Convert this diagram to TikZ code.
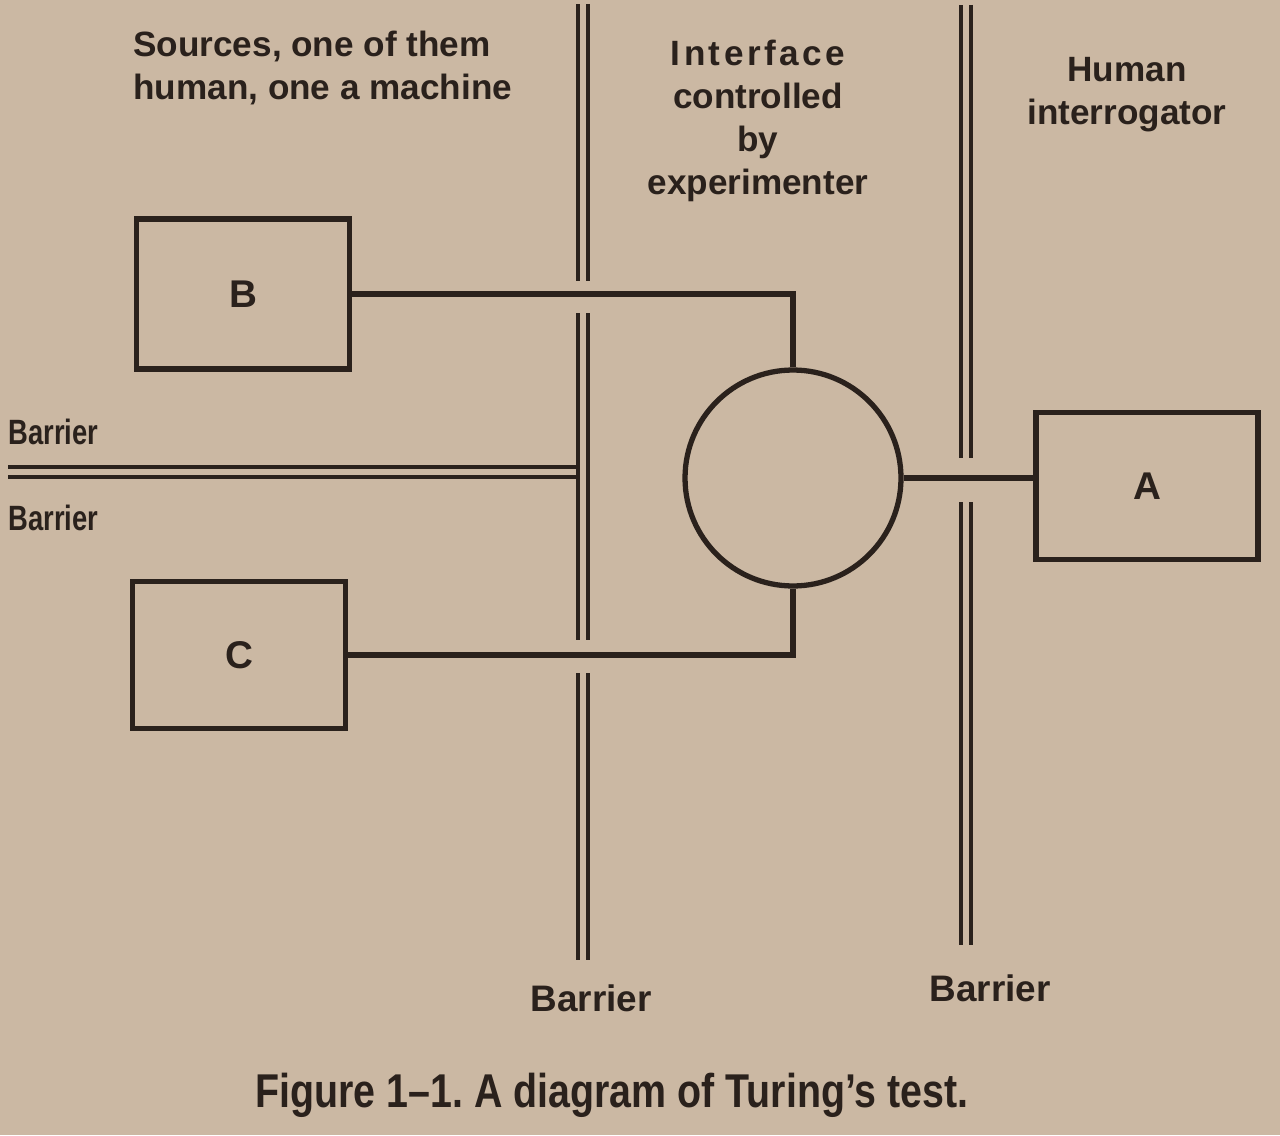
\documentclass[tikz,border=0pt]{standalone}
\usepackage{fontspec}
\setmainfont{Liberation Sans}
\newfontfamily\narrowfont[FakeStretch=0.78]{Liberation Sans}
\newfontfamily\capfont[FakeStretch=0.83]{Liberation Sans}
\usepackage{tikz}
\usepackage{xcolor}
\definecolor{paper}{RGB}{203,184,163}
\definecolor{ink}{RGB}{42,33,28}
\tikzset{font={\fontsize{20pt}{24.5pt}\selectfont\bfseries}}
\tikzset{
  box/.style={draw=ink, line width=3.3pt, minimum width=4.26cm, minimum height=3cm,
    text=ink, font={\fontsize{22pt}{26pt}\selectfont\bfseries}},
  head/.style={text=ink, align=center, inner sep=0pt},
  wire/.style={draw=ink, line width=3pt},
  wall/.style={draw=ink, double=paper, line width=2pt, double distance=3.8pt},
  walllabel/.style={text=ink, inner sep=0pt}
}

\begin{document}
\begin{tikzpicture}[x=0.02cm, y=-0.02cm]
  % Page
  \fill[paper] (0,0) rectangle (1280,1135);
  \useasboundingbox (0,0) rectangle (1280,1135);

  % Define nodes
  \node[box]                     (B) at (243,294) {B};
  \node[box, minimum height=2.94cm] (C) at (239,655) {C};
  \node[box, minimum width=4.44cm, minimum height=2.94cm] (A) at (1147,486) {A};
  \node[circle, draw=ink, line width=3pt, minimum size=4.32cm] (iface) at (793,478) {};
  \node[head, anchor=west, align=left] (src) at (133,68) {Sources, one of them\\human, one a machine};
  \node[head] (ctl) at (758,121) {{\addfontfeature{LetterSpace=10}Interface}\\controlled\\by\\experimenter};
  \node[head] (ask) at (1127,95) {Human\\interrogator};
  \node[walllabel, anchor=west, font={\narrowfont\bfseries\fontsize{20pt}{24pt}\selectfont}] (barl1) at (8,432) {Barrier};
  \node[walllabel, anchor=west, font={\narrowfont\bfseries\fontsize{20pt}{24pt}\selectfont}] (barl2) at (8,518) {Barrier};
  \node[walllabel, font={\fontsize{21pt}{24pt}\selectfont\bfseries}] (barm) at (591,998) {Barrier};
  \node[walllabel, font={\fontsize{21pt}{24pt}\selectfont\bfseries}] (barr) at (990,988) {Barrier};
  \node[head, font={\capfont\bfseries\fontsize{27pt}{30pt}\selectfont}] (cap) at (612,1095) {\frenchspacing Figure 1–1. A diagram of Turing’s test.};

  % Barriers
  \draw[wall] (8,472) -- (578,472);
  \draw[wall] (583,4) -- (583,281);
  \draw[wall] (583,313) -- (583,640);
  \draw[wall] (583,673) -- (583,960);
  \draw[wall] (966,5) -- (966,458);
  \draw[wall] (966,502) -- (966,945);

  % Connect the nodes
  \draw[wire] (B.east) -| (iface.north);
  \draw[wire] (C.east) -| (iface.south);
  \draw[wire] (iface.east) -- (iface.east -| A.west);
\end{tikzpicture}
\end{document}
